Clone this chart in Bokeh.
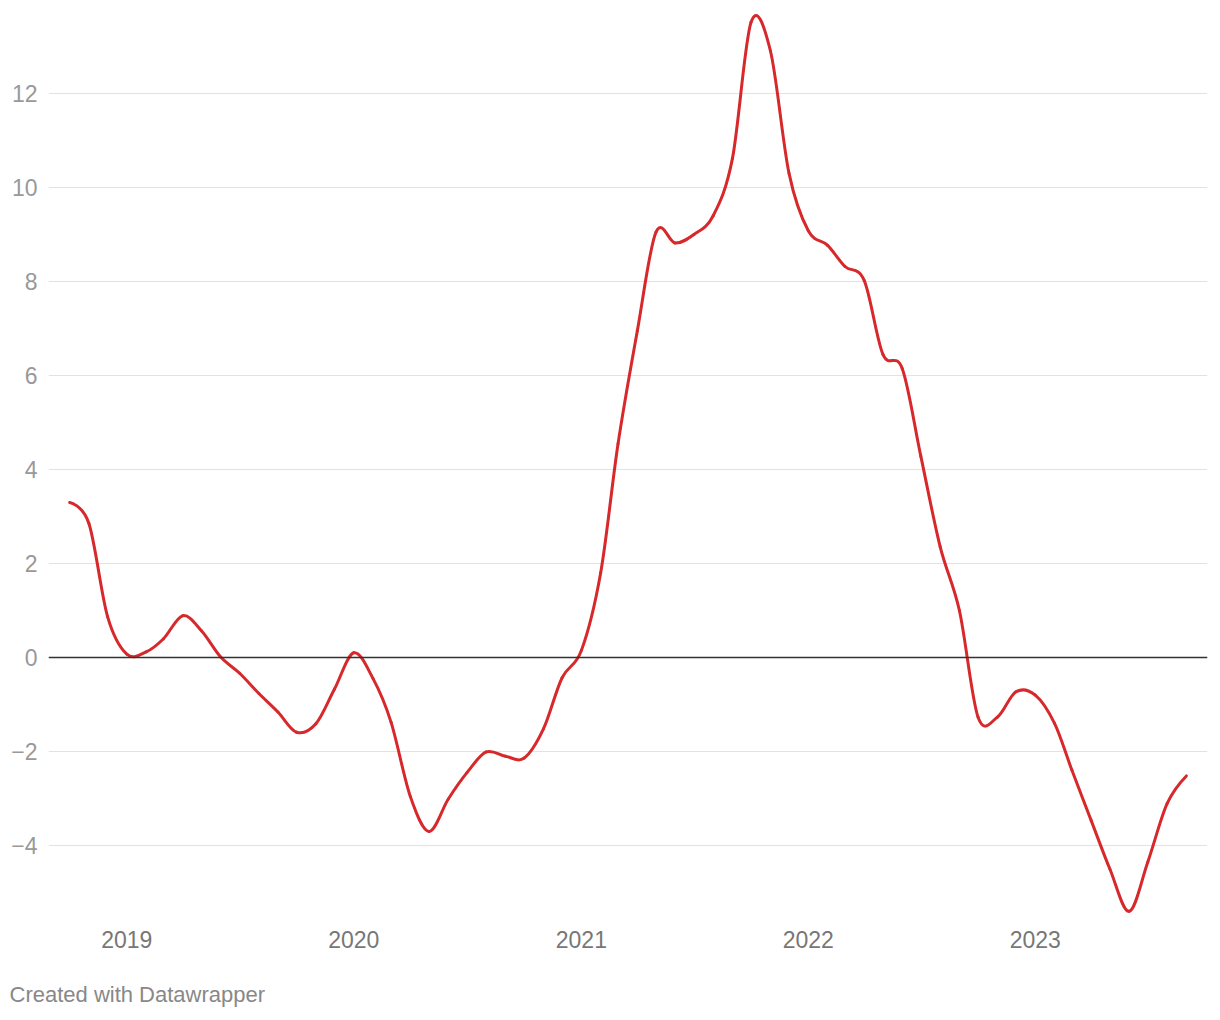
import numpy as np
import pandas as pd
from bokeh.plotting import figure
from bokeh.models import (Range1d, FixedTicker, DatetimeTickFormatter, Span, Title,
                          ColumnDataSource)
from bokeh.embed import file_html
from bokeh.resources import INLINE

# ---- data -------------------------------------------------------------
months = [
    "2018-10-01", "2018-11-01", "2018-12-01",
    "2019-01-01", "2019-02-01", "2019-03-01", "2019-04-01", "2019-05-01", "2019-06-01",
    "2019-07-01", "2019-08-01", "2019-09-01", "2019-10-01", "2019-11-01", "2019-12-01",
    "2020-01-01", "2020-02-01", "2020-03-01", "2020-04-01", "2020-05-01", "2020-06-01",
    "2020-07-01", "2020-08-01", "2020-09-01", "2020-10-01", "2020-11-01", "2020-12-01",
    "2021-01-01", "2021-02-01", "2021-03-01", "2021-04-01", "2021-05-01", "2021-06-01",
    "2021-07-01", "2021-08-01", "2021-09-01", "2021-10-01", "2021-11-01", "2021-12-01",
    "2022-01-01", "2022-02-01", "2022-03-01", "2022-04-01", "2022-05-01", "2022-06-01",
    "2022-07-01", "2022-08-01", "2022-09-01", "2022-10-01", "2022-11-01", "2022-12-01",
    "2023-01-01", "2023-02-01", "2023-03-01", "2023-04-01", "2023-05-01", "2023-06-01",
    "2023-07-01", "2023-08-01", "2023-09-01",
]
values = [
    3.30, 2.85, 0.87,
    0.07, 0.12, 0.40, 0.89, 0.57, 0.01,
    -0.33, -0.76, -1.16, -1.59, -1.41, -0.67,
    0.10, -0.45, -1.38, -2.96, -3.70, -3.01,
    -2.45, -2.01, -2.10, -2.14, -1.52, -0.43,
    0.15, 1.80, 4.55, 6.95, 9.05, 8.82,
    9.00, 9.40, 10.62, 13.52, 12.91, 10.30,
    9.08, 8.77, 8.32, 8.02, 6.45, 6.15,
    4.28, 2.36, 1.00, -1.27, -1.27, -0.73,
    -0.80, -1.40, -2.40, -3.47, -4.50, -5.40,
    -4.35, -3.11, -2.52,
]
year_ticks = ["2019-01-01", "2020-01-01", "2021-01-01", "2022-01-01", "2023-01-01"]
y_ticks = [-4, -2, 0, 2, 4, 6, 8, 10, 12]
credit = "Created with Datawrapper"

# ---- helpers -------------------------------------------------------------
def to_ms(strings):
    return (pd.to_datetime(strings).values.astype("datetime64[ms]").astype("int64")).astype(float)

x = to_ms(months)
y = np.array(values, dtype=float)

# cardinal (tension 0) spline as cubic Bezier segments, like d3.curveCardinal
k = 1.0 / 6.0
x0, y0 = x[:-1], y[:-1]
x1, y1 = x[1:], y[1:]
xp = np.concatenate([[x[1]], x[:-2]])
yp = np.concatenate([[y[1]], y[:-2]])
xn = np.concatenate([x[2:], [x[-2]]])
yn = np.concatenate([y[2:], [y[-2]]])
cx0 = x0 + k * (x1 - xp)
cy0 = y0 + k * (y1 - yp)
cx1 = x1 - k * (xn - x0)
cy1 = y1 - k * (yn - y0)

src = ColumnDataSource(dict(x0=x0, y0=y0, x1=x1, y1=y1, cx0=cx0, cy0=cy0, cx1=cx1, cy1=cy1))

FONT = "Liberation Sans"

p = figure(width=1212, height=1012, output_backend="svg", toolbar_location=None,
           x_axis_type="datetime",
           x_range=Range1d(to_ms(["2018-08-28"])[0], to_ms(["2023-10-05"])[0]),
           y_range=Range1d(-5.553, 13.809),
           min_border_left=48, min_border_right=5, min_border_top=8, min_border_bottom=94)
p.outline_line_color = None
p.background_fill_color = "white"
p.border_fill_color = "white"

p.xgrid.grid_line_color = None
p.ygrid.grid_line_color = "#e2e2e2"
p.ygrid.grid_line_width = 1

# y axis
p.yaxis.ticker = FixedTicker(ticks=y_ticks)
p.yaxis.major_label_overrides = {t: ("\u2212" + str(-t) if t < 0 else str(t)) for t in y_ticks}
p.yaxis.axis_line_color = None
p.yaxis.major_tick_line_color = None
p.yaxis.minor_tick_line_color = None
p.yaxis.major_label_standoff = 5
p.yaxis.major_label_text_font = FONT
p.yaxis.major_label_text_font_size = "23px"
p.yaxis.major_label_text_color = "#999999"

# x axis
p.xaxis.ticker = FixedTicker(ticks=list(to_ms(year_ticks)))
p.xaxis.formatter = DatetimeTickFormatter(years="%Y", months="%Y", days="%Y", hours="%Y")
p.xaxis.axis_line_color = None
p.xaxis.major_tick_line_color = None
p.xaxis.minor_tick_line_color = None
p.xaxis.major_label_standoff = 6
p.xaxis.major_label_text_font = FONT
p.xaxis.major_label_text_font_size = "23px"
p.xaxis.major_label_text_color = "#777777"

p.add_layout(Span(location=0, dimension="width", line_color="#333333", line_width=1.5))

p.bezier(x0="x0", y0="y0", x1="x1", y1="y1", cx0="cx0", cy0="cy0", cx1="cx1", cy1="cy1",
         source=src, line_color="#d7282b", line_width=3, line_cap="round")

t = Title(text=credit, align="left", offset=-39, standoff=9, padding=(0, 0, 25, 0),
          text_font=FONT, text_font_size="22px", text_font_style="normal",
          text_color="#888888")
p.add_layout(t, "below")

open("out.html", "w").write(file_html(p, INLINE))
